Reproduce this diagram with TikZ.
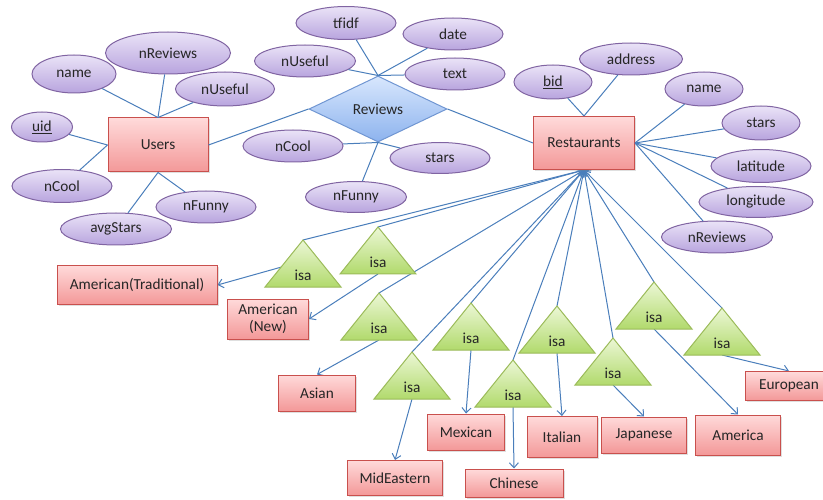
\documentclass[tikz,border=0pt]{standalone}
\usepackage{fontspec}
\setmainfont{Carlito}
\usetikzlibrary{shapes.geometric,shadows,arrows.meta,backgrounds}
\definecolor{attrtop}{HTML}{EAE3F7}
\definecolor{attrbot}{HTML}{B8A4DE}
\definecolor{attrborder}{HTML}{8064A2}
\definecolor{enttop}{HTML}{FFDADA}
\definecolor{entbot}{HTML}{F39898}
\definecolor{entborder}{HTML}{C9504D}
\definecolor{reltop}{HTML}{D8E7FD}
\definecolor{relbot}{HTML}{8DB3EE}
\definecolor{relborder}{HTML}{7096D2}
\definecolor{tritop}{HTML}{ECF7D6}
\definecolor{tribot}{HTML}{B1DA6C}
\definecolor{triborder}{HTML}{9BBB59}
\definecolor{linkblue}{HTML}{4A7EBB}
\definecolor{textgray}{HTML}{262626}
\begin{document}
\begin{tikzpicture}[x=1pt,y=-1pt,
        font=\fontsize{15.3}{17}\selectfont,
        attr/.style={ellipse,draw=attrborder,line width=1pt,top color=attrtop,bottom color=attrbot,inner sep=0pt,text=textgray},
        entity/.style={rectangle,draw=entborder,line width=1pt,top color=enttop,bottom color=entbot,inner sep=0pt,align=center,text=textgray,
            drop shadow={shadow xshift=1.5pt,shadow yshift=-1.5pt,opacity=0.25}},
        relation/.style={diamond,draw=relborder,line width=1pt,top color=reltop,bottom color=relbot,aspect=2,inner sep=0pt,text=textgray},
        isatri/.style={draw=triborder,line width=1pt,top color=tritop,bottom color=tribot},
        link/.style={draw=linkblue,line width=1pt},
        isaarrow/.style={link,-{Straight Barb[length=5pt,width=9pt]}}]
                \useasboundingbox (0,0) rectangle (823,500);
                \node[entity,minimum width=100pt,minimum height=54pt] (users) at (158,145) {Users};
                \node[relation,minimum width=138pt,minimum height=66pt] (reviews) at (378,109) {Reviews};
                \node[entity,minimum width=101pt,minimum height=53pt] (rest) at (584,143) {Restaurants};
                \foreach \n/\x/\y/\w/\h/\t in {uname/74/74/84/38/name, unrev/168/53/125/42/nReviews, uuse/225/89/99/34/nUseful,
                    uid/42/127/61/30/{\underline{uid}}, ucool/62/186/100/33/nCool, uavg/116/229/111/32/avgStars, ufun/206/207/100/32/nFunny,
                    rtfidf/346/23/100/33/tfidf, rdate/453/34/100/32/date, ruse/305/61/101/32/nUseful, rtext/455/74/100/32/text,
                    rcool/293/146/100/32/nCool, rstars/440/158/100/31/stars, rfun/356/197/101/31/nFunny,
                    bid/553/82/78/34/{\underline{bid}}, baddr/631/59/103/32/address, bname/704/89/78/34/name, bstars/761/123/78/34/stars,
                    blat/761/166/100/33/latitude, blong/756/202/114/31/longitude, bnrev/717/237/111/32/nReviews}
                {
                    \node[attr,minimum width=\w pt,minimum height=\h pt] (\n) at (\x,\y) {\t};
                }
                \foreach \a/\b in {uname/users.north, unrev/users.north, uuse/users.north, uid/users.west, ucool/users.west,
                    uavg/users.south, ufun/users.south, users.east/reviews.west,
                    rtfidf/reviews.north, rdate/reviews.north, ruse/reviews.north, rtext/reviews.north,
                    rcool/reviews.south, rstars/reviews.south, rfun/reviews.south, reviews.east/rest.west,
                    bid/rest.north, baddr/rest.north, bname/rest.east, bstars/rest.east, blat/rest.east, blong/rest.east, bnrev/rest.east}
                {
                    \draw[link] (\a) -- (\b);
                }
                \foreach \n/\x/\y/\w/\h/\t in {sat/137/285/160/39/American(Traditional), san/268/319/81/40/{American\\(New)},
                    sasian/317/393/77/36/Asian, smid/395/478/95/35/MidEastern, smex/466/432/77/36/Mexican,
                    schi/514/483/98/28/Chinese, sita/562/437/70/41/Italian, sjap/644/435/85/36/Japanese,
                    samer/738/435/85/40/America, seur/789/386/88/29/European}
                {
                    \node[entity,minimum width=\w pt,minimum height=\h pt] (\n) at (\x,\y) {\t};
                }
                \foreach \i/\x/\y in {1/303/240, 2/378/227, 3/379/293, 4/412/352, 5/471/303,
                    6/513/360, 7/557/306, 8/613/338, 9/654/282, 10/722/308}
                {
                    \draw[isatri] (\x,\y) -- ++(38,47) -- ++(-76,0) -- cycle;
                    \node[text=textgray] (t\i) at (\x,\y+35) {isa};
                    \coordinate (t\i-apex) at (\x,\y);
                    \coordinate (t\i-mid) at (\x,\y+21);
                    \coordinate (t\i-base) at (\x,\y+47);
                }
                \begin{scope}[on background layer]
                    \foreach \i in {1,...,10}
                    {
                        \draw[isaarrow] (t\i-apex) -- (rest.south);
                    }
                    \foreach \a/\b in {t1-mid/sat.east, t2-base/san.east, t3-base/sasian.north, t4-base/smid.north,
                        t5-base/smex.north, t6-base/schi.north, t7-base/sita.north, t8-base/sjap.north,
                        t9-base/samer.north, t10-base/seur.north}
                    {
                        \draw[isaarrow] (\a) -- (\b);
                    }
                \end{scope}
\end{tikzpicture}
\end{document}
